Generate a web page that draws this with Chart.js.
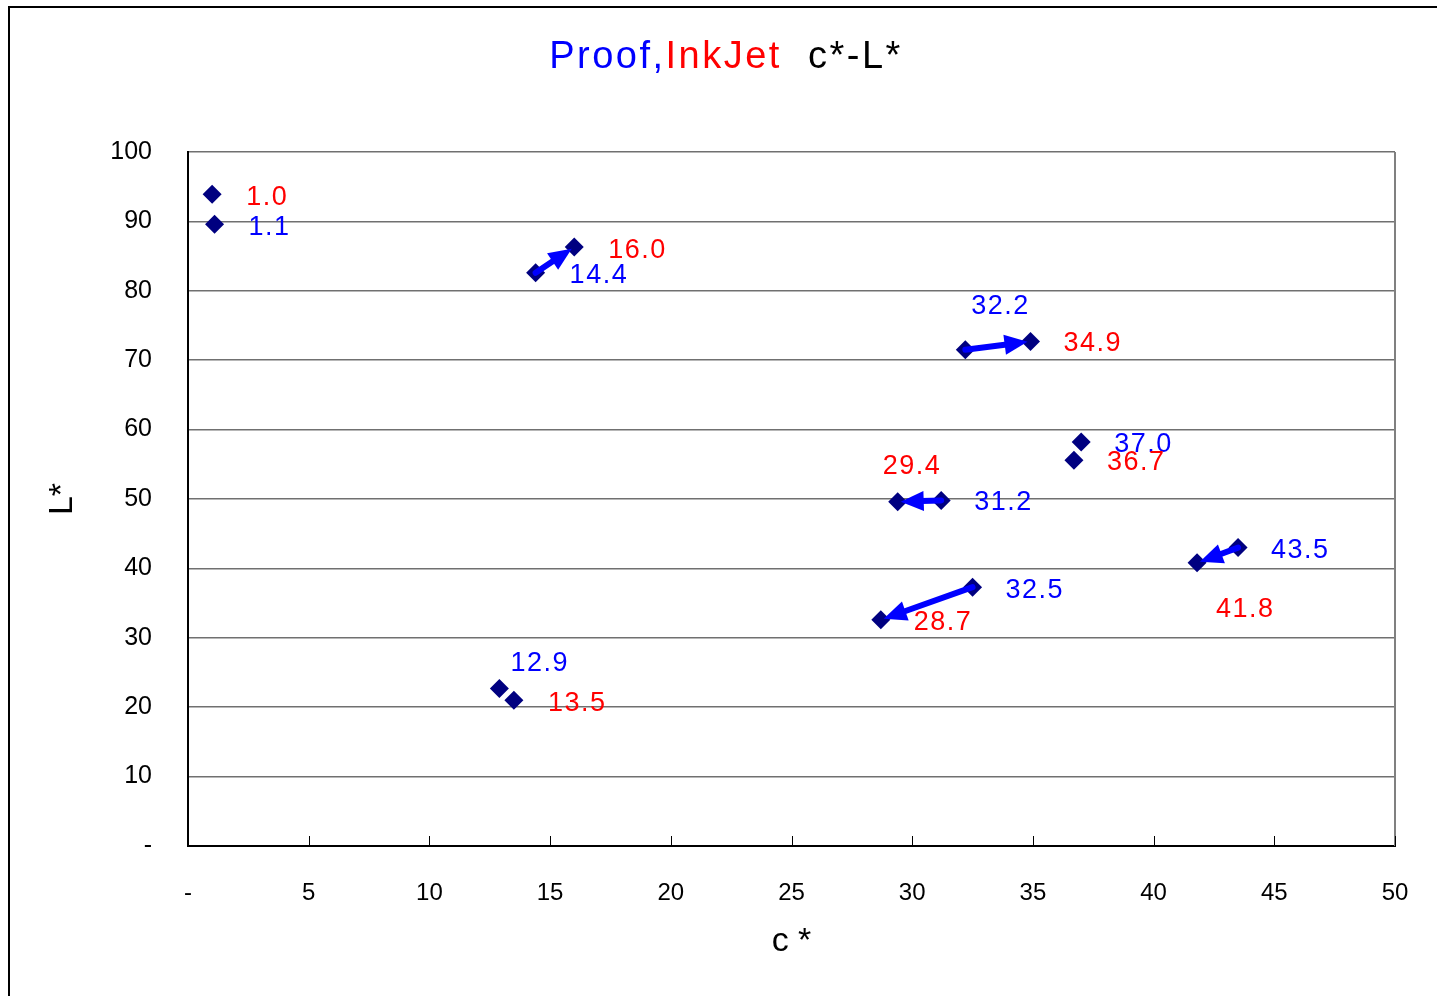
<!DOCTYPE html>
<html>
<head>
<meta charset="utf-8">
<script src="https://cdn.jsdelivr.net/npm/chart.js@4/dist/chart.umd.min.js"></script>
<style>
  html, body { margin: 0; padding: 0; background: #fff; }
  canvas { display: block; }
</style>
</head>
<body>
<canvas id="cLChart" width="1437" height="996"></canvas>
<script>
// Proof (blue labels) and InkJet (red labels) measurements, c* and L*
var proofC = [1.1, 14.4, 32.2, 37.0, 31.2, 43.5, 32.5, 12.9];
var proofL = [89.6, 82.6, 71.5, 58.2, 49.8, 43.0, 37.3, 22.7];
var inkC = [1.0, 16.0, 34.9, 36.7, 29.4, 41.8, 28.7, 13.5];
var inkL = [93.9, 86.3, 72.7, 55.6, 49.6, 40.8, 32.6, 21.0];
// which pairs have an arrow from proof to inkjet
var hasArrow = [false, true, true, false, true, true, true, false];

var xTicksMax = 50;
var yTicksMax = 100;

// label offsets (px) from the marker: left edge of text, vertical middle
var proofLabelOffset = [[34, 3], [34, 3], [6, -43], [33, 2], [33, 2], [33, 3], [33, 3], [11, -25]];
var inkLabelOffset = [[34, 3], [34, 3], [33, 2], [33, 2], [-15, -35], [19, 47], [33, 3], [34, 3]];

function toPoints(xs, ys) {
  return xs.map(function(x, i) { return { x: x, y: ys[i] }; });
}

var FONT = "'Liberation Sans', Arial, sans-serif";

var decorPlugin = {
  id: 'decor',
  beforeDraw: function(chart) {
    var ctx = chart.ctx;
    ctx.save();
    ctx.fillStyle = '#fff';
    ctx.fillRect(0, 0, chart.width, chart.height);
    // outer frame
    ctx.strokeStyle = '#000';
    ctx.lineWidth = 2;
    ctx.beginPath();
    ctx.moveTo(9, chart.height + 5);
    ctx.lineTo(9, 7);
    ctx.lineTo(chart.width + 5, 7);
    ctx.stroke();
    // title in three colours
    var parts = [
      { text: 'Proof,', color: '#0000FF' },
      { text: 'InkJet', color: '#FF0000' },
      { text: '  c*-L*', color: '#000000' }
    ];
    ctx.font = '38px ' + FONT;
    ctx.letterSpacing = '2.5px';
    ctx.textBaseline = 'middle';
    ctx.textAlign = 'left';
    var total = 0;
    parts.forEach(function(p) { total += ctx.measureText(p.text).width; });
    var x = 726 - total / 2;
    parts.forEach(function(p) {
      ctx.fillStyle = p.color;
      ctx.fillText(p.text, x, 58);
      x += ctx.measureText(p.text).width;
    });
    ctx.restore();
  },
  afterDatasetsDraw: function(chart) {
    var ctx = chart.ctx;
    var area = chart.chartArea;
    var xs = chart.scales.x;
    ctx.save();
    // right border of the plot
    ctx.strokeStyle = '#808080';
    ctx.lineWidth = 2;
    ctx.beginPath();
    ctx.moveTo(area.right, area.top);
    ctx.lineTo(area.right, area.bottom);
    ctx.stroke();
    // inward tick marks on the x axis
    ctx.strokeStyle = '#000';
    ctx.lineWidth = 1;
    xs.ticks.forEach(function(t, i) {
      if (t.value === 0) return;
      var px = Math.round(xs.getPixelForTick(i)) + 0.5;
      ctx.beginPath();
      ctx.moveTo(px, area.bottom);
      ctx.lineTo(px, area.bottom - 10);
      ctx.stroke();
    });

    var proofMeta = chart.getDatasetMeta(0);
    var inkMeta = chart.getDatasetMeta(1);
    // arrows
    ctx.strokeStyle = '#0000FF';
    ctx.fillStyle = '#0000FF';
    ctx.lineWidth = 6;
    ctx.lineCap = 'round';
    hasArrow.forEach(function(a, i) {
      if (!a) return;
      var p0 = proofMeta.data[i], p1 = inkMeta.data[i];
      var dx = p1.x - p0.x, dy = p1.y - p0.y;
      var len = Math.sqrt(dx * dx + dy * dy);
      var ux = dx / len, uy = dy / len;
      var tipX = p1.x - ux * 3, tipY = p1.y - uy * 3;
      var headLen = 23, headW = 10;
      var bx = tipX - ux * headLen, by = tipY - uy * headLen;
      ctx.beginPath();
      ctx.moveTo(p0.x, p0.y);
      ctx.lineTo(bx + ux * 2, by + uy * 2);
      ctx.stroke();
      ctx.beginPath();
      ctx.moveTo(tipX, tipY);
      ctx.lineTo(bx - uy * headW, by + ux * headW);
      ctx.lineTo(bx + uy * headW, by - ux * headW);
      ctx.closePath();
      ctx.fill();
    });

    // value labels
    ctx.font = '27px ' + FONT;
    ctx.letterSpacing = '1.5px';
    ctx.textBaseline = 'middle';
    ctx.textAlign = 'left';
    ctx.fillStyle = '#0000FF';
    proofMeta.data.forEach(function(el, i) {
      ctx.fillText(proofC[i].toFixed(1), el.x + proofLabelOffset[i][0], el.y + proofLabelOffset[i][1]);
    });
    ctx.fillStyle = '#FF0000';
    inkMeta.data.forEach(function(el, i) {
      ctx.fillText(inkC[i].toFixed(1), el.x + inkLabelOffset[i][0], el.y + inkLabelOffset[i][1]);
    });
    ctx.restore();
  }
};

var config = {
  type: 'scatter',
  data: {
    datasets: [
      {
        label: 'Proof',
        data: toPoints(proofC, proofL),
        pointStyle: 'rectRot',
        pointRadius: 9.5,
        backgroundColor: '#000080',
        borderColor: '#000080',
        borderWidth: 0
      },
      {
        label: 'InkJet',
        data: toPoints(inkC, inkL),
        pointStyle: 'rectRot',
        pointRadius: 9.5,
        backgroundColor: '#000080',
        borderColor: '#000080',
        borderWidth: 0
      }
    ]
  },
  options: {
    responsive: false,
    animation: false,
    layout: { padding: { top: 152, right: 42, left: 0, bottom: 0 } },
    plugins: {
      legend: { display: false },
      tooltip: { enabled: false },
      title: { display: false }
    },
    scales: {
      x: {
        type: 'linear',
        min: 0,
        max: xTicksMax,
        afterFit: function(s) { s.height = 150; s.paddingRight = 0; s.paddingLeft = 0; },
        ticks: {
          stepSize: 5,
          padding: 33,
          color: '#000',
          font: { family: FONT, size: 24 },
          callback: function(v) { return v === 0 ? '-' : v; }
        },
        grid: { display: false, drawTicks: false },
        border: { display: true, color: '#000', width: 2 },
        title: {
          display: true,
          text: 'c *',
          color: '#000',
          font: { family: FONT, size: 34 },
          padding: { top: 0, bottom: 34 }
        }
      },
      y: {
        min: 0,
        max: yTicksMax,
        afterFit: function(s) { s.width = 188; },
        ticks: {
          stepSize: 10,
          padding: 36,
          color: '#000',
          font: { family: FONT, size: 25 },
          callback: function(v) { return v === 0 ? '-' : v; }
        },
        grid: { color: '#707070', lineWidth: 1.5, drawTicks: false },
        border: { display: true, color: '#000', width: 2 },
        title: {
          display: true,
          text: 'L*',
          color: '#000',
          font: { family: FONT, size: 34 },
          padding: { top: 42, bottom: 0 }
        }
      }
    }
  },
  plugins: [decorPlugin]
};

var ctx = document.getElementById('cLChart').getContext('2d');
new Chart(ctx, config);
</script>
</body>
</html>
